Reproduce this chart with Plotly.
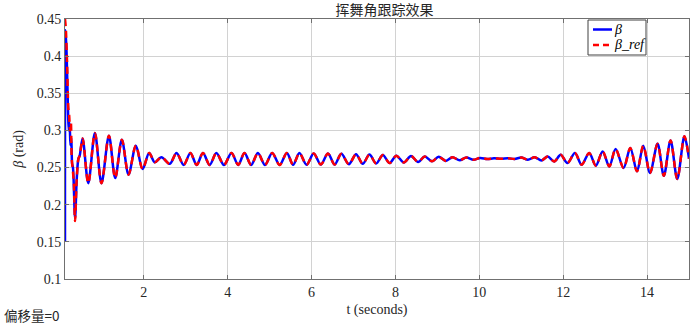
import plotly.graph_objects as go

# ---- data ----
# start-up transient of beta (measured)
t_beta_start = [0.120, 0.135, 0.160, 0.190, 0.210, 0.230, 0.250, 0.270, 0.290, 0.310, 0.360, 0.400, 0.440, 0.470]
beta_start = [0.150, 0.435, 0.400, 0.330, 0.300, 0.310, 0.280, 0.290, 0.255, 0.250, 0.182, 0.235, 0.262, 0.266]

# start-up transient of beta_ref
t_ref_start = [0.120, 0.140, 0.170, 0.200, 0.220, 0.240, 0.260, 0.280, 0.300, 0.330, 0.360, 0.400, 0.440, 0.470]
ref_start = [0.450, 0.437, 0.390, 0.330, 0.320, 0.300, 0.310, 0.262, 0.250, 0.230, 0.178, 0.235, 0.262, 0.266]

# oscillation extrema (peaks / troughs), shared by both curves
t_osc = [0.54, 0.675, 0.833, 0.99, 1.167, 1.317, 1.476, 1.635, 1.81, 1.97,
         2.127, 2.26, 2.42, 2.62, 2.78, 2.95, 3.11, 3.26, 3.41, 3.57,
         3.73, 3.91, 4.09, 4.25, 4.40, 4.56, 4.72, 4.89, 5.06, 5.24,
         5.41, 5.56, 5.71, 5.88, 6.05, 6.22, 6.39, 6.55, 6.71, 6.89,
         7.06, 7.22, 7.38, 7.54, 7.70, 7.86, 8.02, 8.20, 8.37, 8.54,
         8.70, 8.87, 9.03, 9.20, 9.36, 9.53, 9.69, 9.86, 10.02, 10.19,
         10.35, 10.52, 10.68, 10.84, 11.00, 11.16, 11.32, 11.48, 11.63, 11.79,
         11.94, 12.10, 12.28, 12.44, 12.62, 12.78, 12.94, 13.10, 13.25, 13.44,
         13.60, 13.76, 13.91, 14.07, 14.25, 14.40, 14.56, 14.72, 14.89, 15.0]
beta_osc = [0.289, 0.229, 0.2965, 0.229, 0.293, 0.236, 0.2875, 0.2405, 0.2795, 0.248,
            0.2696, 0.257, 0.264, 0.255, 0.2696, 0.2535, 0.2696, 0.2535, 0.2696, 0.2535,
            0.2696, 0.2535, 0.2696, 0.2535, 0.2696, 0.2535, 0.2696, 0.2535, 0.2696, 0.2535,
            0.2696, 0.2537, 0.2696, 0.2537, 0.269, 0.254, 0.269, 0.254, 0.2685, 0.2545,
            0.268, 0.255, 0.2675, 0.2555, 0.267, 0.256, 0.266, 0.2568, 0.2655, 0.2575,
            0.2650, 0.2585, 0.2645, 0.259, 0.264, 0.2598, 0.2635, 0.2605, 0.263, 0.2615,
            0.2625, 0.2618, 0.2626, 0.2615, 0.2635, 0.2605, 0.264, 0.2595, 0.2648, 0.2583,
            0.2671, 0.256, 0.2696, 0.2538, 0.2696, 0.2525, 0.2718, 0.2516, 0.275, 0.2494,
            0.2763, 0.2449, 0.2795, 0.2427, 0.282, 0.239, 0.2866, 0.2346, 0.292, 0.262]

t_beta = t_beta_start + t_osc
beta = beta_start + beta_osc
t_ref = t_ref_start + t_osc
beta_ref = ref_start + beta_osc

x_ticks = [2, 4, 6, 8, 10, 12, 14]
y_ticks = [0.1, 0.15, 0.2, 0.25, 0.3, 0.35, 0.4, 0.45]
y_tick_text = ["0.1", "0.15", "0.2", "0.25", "0.3", "0.35", "0.4", "0.45"]
legend_labels = ["<i>β</i>", "<i>β_ref</i>"]

SERIF = "Liberation Serif, Times New Roman, serif"
CJK = "Noto Sans CJK SC, sans-serif"

# plot-area geometry in pixels
W, H = 694, 325
L, R, T, B = 65, 5, 19, 46
PW, PH = W - L - R, H - T - B


def px_x(x):
    return (x - L) / PW


def px_y(y):
    return (H - B - y) / PH


blue = dict(color="#0000FF", width=2.5)
red = dict(color="#FF0000", width=2.5, dash="7px,5px")

fig = go.Figure()
fig.add_trace(go.Scatter(x=t_beta, y=beta, mode="lines", name=legend_labels[0], showlegend=False,
                         line=dict(**blue, shape="spline", smoothing=0.9)))
fig.add_trace(go.Scatter(x=t_ref, y=beta_ref, mode="lines", name=legend_labels[1], showlegend=False,
                         line=dict(**red, shape="spline", smoothing=0.9)))

axis_common = dict(showline=True, linecolor="#707070", linewidth=1, mirror="allticks",
                   ticks="inside", ticklen=4, tickcolor="#707070", automargin=False,
                   showgrid=True, gridcolor="#d2d2d2", gridwidth=1, zeroline=False,
                   tickfont=dict(family=SERIF, size=14, color="#262626"))

# legend box drawn like the MATLAB legend
shapes = [
    dict(type="rect", xref="paper", yref="paper", x0=px_x(588), x1=px_x(646), y0=px_y(55), y1=px_y(20),
         line=dict(color="#404040", width=1), fillcolor="white", layer="above"),
    dict(type="line", xref="paper", yref="paper", x0=px_x(593), x1=px_x(612), y0=px_y(29.5), y1=px_y(29.5),
         line=blue, layer="above"),
    dict(type="line", xref="paper", yref="paper", x0=px_x(593), x1=px_x(612), y0=px_y(45), y1=px_y(45),
         line=dict(color="#FF0000", width=2.5, dash="6px,4px"), layer="above"),
]
annotations = [
    dict(text=legend_labels[0], x=px_x(612), y=px_y(29.5), xref="paper", yref="paper",
         xanchor="left", yanchor="middle", showarrow=False,
         font=dict(family=SERIF, size=14, color="#000000")),
    dict(text=legend_labels[1], x=px_x(612), y=px_y(45), xref="paper", yref="paper",
         xanchor="left", yanchor="middle", showarrow=False,
         font=dict(family=SERIF, size=14, color="#000000")),
    dict(text="偏移量=0", x=px_x(2), y=px_y(315), xref="paper", yref="paper",
         xanchor="left", yanchor="middle", showarrow=False,
         font=dict(family=CJK, size=13.5, color="#262626")),
]

fig.update_layout(
    width=W, height=H,
    margin=dict(l=L, r=R, t=T, b=B),
    paper_bgcolor="white", plot_bgcolor="white",
    title=dict(text="挥舞角跟踪效果", font=dict(family=CJK, size=14, color="#262626"),
               x=384.5 / W, xanchor="center", y=1 - 10 / H, yanchor="middle"),
    xaxis=dict(range=[0.12, 15], tickvals=x_ticks,
               title=dict(text="t (seconds)", font=dict(family=SERIF, size=14, color="#262626"), standoff=5),
               **axis_common),
    yaxis=dict(range=[0.1, 0.45], tickvals=y_ticks, ticktext=y_tick_text,
               title=dict(text="<i>β</i> (rad)", font=dict(family=SERIF, size=14, color="#262626"), standoff=9),
               **axis_common),
    showlegend=False,
    shapes=shapes,
    annotations=annotations,
)

fig.write_html("out.html", config={"displayModeBar": False},
               post_script="document.body.style.margin='0';document.body.style.overflow='hidden';")
